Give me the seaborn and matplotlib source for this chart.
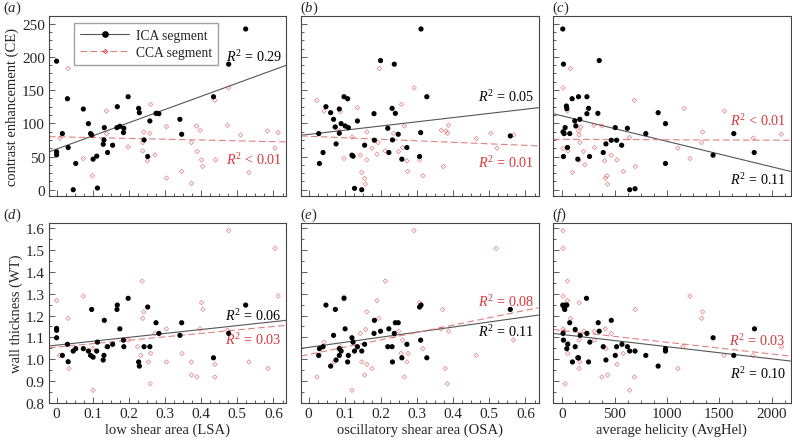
import matplotlib
matplotlib.use("Agg")
import numpy as np
import matplotlib.pyplot as plt
from matplotlib.lines import Line2D
from matplotlib.ticker import MultipleLocator, AutoMinorLocator
import seaborn as sns

# ---- data ----
# (a) low shear area vs contrast enhancement
a_ica_x = [0, 0, 0, 0.016, 0.030, 0.032, 0.046, 0.053, 0.074, 0.088, 0.094, 0.097, 0.101, 0.111,
           0.113, 0.129, 0.131, 0.132, 0.141, 0.155, 0.167, 0.168, 0.175, 0.185, 0.186, 0.198,
           0.227, 0.229, 0.242, 0.252, 0.258, 0.275, 0.283, 0.341, 0.346, 0.434, 0.476, 0.523]
a_ica_y = [193.5, 57, 52.5, 84.5, 137, 63.5, 0, 39.5, 121.5, 99.5, 84.5, 82.5, 46, 50.5,
           2.5, 68.5, 75, 93.5, 56, 67, 93.5, 125, 95.5, 86, 92.5, 140,
           122.5, 116, 75, 50, 103.5, 115, 114.5, 106, 83.5, 140, 189, 242]
a_cca_x = [0.032, 0.009, 0.032, 0.074, 0.099, 0.101, 0.138, 0.138, 0.198, 0.228, 0.238, 0.238,
           0.241, 0.251, 0.258, 0.260, 0.272, 0.278, 0.304, 0.304, 0.346, 0.373, 0.373, 0.387,
           0.389, 0.397, 0.401, 0.404, 0.438, 0.440, 0.473, 0.476, 0.509, 0.532, 0.583, 0.604, 0.613]
a_cca_y = [182.5, 77.5, 63.5, 47, 21, 81, 118.5, 84.5, 64.5, 122, 71, 58.5,
           87, 43.5, 85, 128.5, 52.5, 116, 95, 17.5, 27.5, 71, 9.5, 96,
           57.5, 89.5, 45, 35, 134.5, 45, 97, 153.5, 82.5, 26, 88.5, 62.5, 86]

# (b) oscillatory shear area vs contrast enhancement
b_ica_x = [0.028, 0.030, 0.040, 0.048, 0.061, 0.069, 0.074, 0.076, 0.085, 0.085, 0.090, 0.098,
           0.101, 0.108, 0.110, 0.120, 0.123, 0.127, 0.135, 0.147, 0.155, 0.181, 0.182, 0.199,
           0.219, 0.222, 0.231, 0.232, 0.237, 0.240, 0.248, 0.258, 0.272, 0.307, 0.310, 0.311,
           0.327, 0.558]
b_ica_y = [84.5, 39.5, 56, 125, 116, 106, 94.5, 69, 121.5, 85, 99.5, 140,
           96, 137, 93.5, 52, 50.5, 2, 103.5, 0, 67, 114.5, 74.5, 194.5,
           92.5, 56, 122.5, 75, 189, 115, 83.5, 46, 63.5, 50, 86, 242,
           140, 81]
b_cca_x = [0.023, 0.043, 0.071, 0.088, 0.085, 0.098, 0.120, 0.135, 0.143, 0.147, 0.155, 0.157,
           0.161, 0.161, 0.175, 0.189, 0.192, 0.196, 0.212, 0.235, 0.249, 0.257, 0.260, 0.265,
           0.272, 0.274, 0.292, 0.307, 0.316, 0.367, 0.373, 0.380, 0.384, 0.387, 0.464, 0.504,
           0.521, 0.567]
b_cca_y = [134.5, 118.5, 94.5, 117.5, 88.5, 47, 79.5, 123.5, 52, 26, 17, 8.5,
           45, 87, 62.5, 53.5, 71, 182.5, 58.5, 85, 57.5, 128.5, 63.5, 96,
           43.5, 27.5, 153.5, 45, 21, 89.5, 35, 88.5, 85, 97, 77, 85,
           62.5, 82.5]

# (c) average helicity vs contrast enhancement
c_ica_x = [3, 10, 6, 16, 26, 10, 38, 42, 48, 70, 93, 118, 128, 147, 154, 166, 234, 234, 250,
           259, 339, 352, 390, 416, 467, 505, 518, 566, 621, 643, 694, 797, 915, 985, 985,
           1440, 1638, 1833]
c_ica_y = [242, 189, 87, 84.5, 93.5, 50, 126, 122, 63.5, 84.5, 137, 103.5, 96, 46, 140, 106,
           140, 114.5, 122.5, 50, 115, 194.5, 56, 69, 74.5, 93.5, 74.5, 67, 92.5, 0, 1.5,
           84.5, 116, 99.5, 39.5, 52, 84.5, 56]
c_cca_x = [6, 6, 13, 16, 38, 48, 51, 77, 96, 154, 160, 166, 160, 176, 202, 214, 301, 307, 377,
           403, 410, 426, 432, 467, 521, 582, 640, 688, 697, 1104, 1164, 1219, 1340, 1331,
           1548, 1823, 2092]
c_cca_y = [153.5, 62, 89.5, 86, 124.5, 118.5, 58.5, 182.5, 26, 88.5, 82.5, 71, 44.5, 94.5,
           57.5, 37.5, 97, 63.5, 96, 43.5, 17.5, 21, 8.5, 52, 45, 27.5, 78.5, 134.5, 35,
           62.5, 122.5, 47, 87, 71, 118.5, 77.5, 83.5]

# (d) low shear area vs wall thickness
d_ica_x = a_ica_x
d_ica_y = [1.141, 1.132, 1.098, 1.017, 1.068, 0.988, 1.037, 1.048, 1.048, 1.037, 1.017, 1.228,
           1.009, 1.037, 1.078, 0.996, 1.017, 1.178, 1.057, 1.068, 1.228, 1.248, 1.139, 1.087,
           1.057, 1.279, 0.987, 0.968, 1.057, 1.239, 1.057, 1.167, 1.118, 1.109, 1.167, 1.006,
           1.118, 1.248]
d_cca_x = [0, 0.008, 0.032, 0.034, 0.074, 0.100, 0.101, 0.137, 0.198, 0.224, 0.233, 0.237,
           0.238, 0.241, 0.254, 0.259, 0.260, 0.272, 0.304, 0.304, 0.347, 0.373, 0.373, 0.388,
           0.397, 0.401, 0.405, 0.438, 0.438, 0.473, 0.476, 0.532, 0.585, 0.604, 0.613]
d_cca_y = [1.269, 1.017, 1.187, 0.957, 1.289, 1.048, 0.857, 1.057, 1.087, 1.057, 1.017, 1.358,
           1.187, 1.217, 0.987, 0.887, 1.026, 1.118, 1.139, 0.987, 1.026, 0.987, 0.927, 0.918,
           1.139, 1.259, 1.228, 0.976, 0.918, 1.132, 1.590, 0.987, 0.957, 1.508, 1.289]

# (e) oscillatory shear area vs wall thickness
e_ica_x = b_ica_x
e_ica_y = [1.017, 1.048, 1.057, 1.248, 0.968, 1.109, 1.228, 0.996, 1.048, 1.017, 1.037, 1.279,
           1.139, 0.987, 1.017, 1.098, 1.078, 1.037, 1.057, 1.037, 1.068, 1.118, 1.178, 1.128,
           1.057, 1.139, 1.057, 0.987, 1.118, 1.167, 1.167, 1.006, 1.068, 1.239, 1.087, 1.248,
           1.006, 1.228]
e_cca_x = [0.023, 0.043, 0.071, 0.088, 0.098, 0.120, 0.135, 0.143, 0.147, 0.155, 0.158, 0.161,
           0.161, 0.175, 0.189, 0.194, 0.212, 0.235, 0.249, 0.256, 0.260, 0.265, 0.272, 0.275,
           0.292, 0.307, 0.316, 0.366, 0.371, 0.378, 0.384, 0.387, 0.464, 0.519, 0.567]
e_cca_y = [0.918, 1.078, 0.987, 1.057, 1.286, 0.857, 1.052, 1.118, 0.987, 0.927, 1.136, 1.217,
           0.976, 0.957, 1.269, 1.187, 1.358, 1.106, 1.128, 1.026, 1.087, 0.918, 0.987, 1.026,
           1.590, 1.259, 1.048, 1.139, 1.228, 0.957, 0.887, 1.128, 1.017, 1.508, 1.087]

# (f) average helicity vs wall thickness
f_ica_x = [3, 26, 16, 22, 42, 6, 10, 42, 51, 70, 96, 122, 122, 147, 154, 170, 230, 234, 250,
           262, 342, 352, 390, 416, 467, 505, 518, 569, 621, 643, 694, 797, 915, 985, 985,
           1440, 1638, 1836]
f_ica_y = [1.248, 1.248, 1.239, 1.228, 1.248, 1.118, 1.087, 1.048, 1.068, 1.167, 0.987, 1.136,
           1.057, 1.006, 1.006, 1.109, 1.279, 1.118, 0.987, 1.078, 1.167, 1.128, 1.057, 0.996,
           1.178, 1.017, 1.057, 1.068, 1.057, 1.037, 1.037, 1.017, 0.968, 1.048, 1.037,
           1.098, 1.017, 1.139]
f_cca_x = [6, 6, 6, 6, 13, 26, 48, 48, 51, 51, 77, 160, 160, 160, 166, 205, 307, 304, 377,
           410, 416, 432, 467, 521, 582, 643, 688, 697, 1104, 1152, 1219, 1331, 1340, 1545,
           1823, 2095]
f_cca_y = [1.590, 1.508, 1.289, 1.139, 1.128, 0.887, 1.358, 1.269, 1.075, 1.026, 1.187, 1.259,
           1.087, 0.957, 0.987, 1.128, 1.087, 1.128, 0.918, 1.139, 1.048, 0.927, 1.118, 0.976,
           1.026, 0.857, 0.918, 1.228, 0.957, 1.057, 1.289, 1.187, 1.217, 1.017, 1.017, 1.057]

# regression lines as printed: [intercept, slope]
a_fit = [[61.2, 198.6], [79.7, -12.2]]
b_fit = [[83.3, 63.2], [80.5, -22.8]]
c_fit = [[111.1, -0.0383], [75.9, -0.00066]]
d_fit = [[1.064, 0.1796], [1.055, 0.158]]
e_fit = [[1.054, 0.233], [1.021, 0.338]]
f_fit = [[1.113, -5.59e-5], [1.131, -5.37e-5]]

r2_text = {
    "a": ["= 0.29", "< 0.01"], "b": ["= 0.05", "= 0.01"], "c": ["= 0.11", "< 0.01"],
    "d": ["= 0.06", "= 0.03"], "e": ["= 0.11", "= 0.08"], "f": ["= 0.10", "= 0.03"],
}

x_labels = ["low shear area (LSA)", "oscillatory shear area (OSA)", "average helicity (AvgHel)"]
y_labels = ["contrast enhancement (CE)", "wall thickness (WT)"]

# ---- style ----
sns.set_style("white")
plt.rcParams["font.family"] = ["Liberation Serif", "DejaVu Serif"]
plt.rcParams["mathtext.fontset"] = "custom"
plt.rcParams["mathtext.rm"] = "Liberation Serif"
plt.rcParams["mathtext.it"] = "Liberation Serif:italic"
plt.rcParams["font.size"] = 10.5

RED = "#d6383c"
RED_LINE = "#e08080"
FS = 11

fig = plt.figure(figsize=(7.92, 4.39), dpi=100)
lefts = [49 / 792, 301 / 792, 553 / 792]
width = 237.5 / 792
bottoms = [1 - 196.7 / 439, 1 - 403.7 / 439]
height = 180 / 439

panels = [
    ("a", a_ica_x, a_ica_y, a_cca_x, a_cca_y, a_fit, 0, 0),
    ("b", b_ica_x, b_ica_y, b_cca_x, b_cca_y, b_fit, 0, 1),
    ("c", c_ica_x, c_ica_y, c_cca_x, c_cca_y, c_fit, 0, 2),
    ("d", d_ica_x, d_ica_y, d_cca_x, d_cca_y, d_fit, 1, 0),
    ("e", e_ica_x, e_ica_y, e_cca_x, e_cca_y, e_fit, 1, 1),
    ("f", f_ica_x, f_ica_y, f_cca_x, f_cca_y, f_fit, 1, 2),
]

# where the R^2 notes sit (axes fraction): black, red
r2_pos = {"a": (0.778, 0.204), "b": (0.556, 0.187), "c": (0.093, 0.42),
          "d": (0.487, 0.354), "e": (0.398, 0.565), "f": (0.165, 0.348)}

for key, ix, iy, cx, cy, fit, row, col in panels:
    ax = fig.add_axes([lefts[col], bottoms[row], width, height])
    if col == 2:
        xlim = (-90, 2180)
    else:
        xlim = (-0.021, 0.636)
    ylim = (-9, 262) if row == 0 else (0.8, 1.626)

    sns.scatterplot(x=cx, y=cy, ax=ax, marker="D", s=5, facecolor="none",
                    edgecolor=RED, linewidth=0.55, alpha=0.6, zorder=3)
    sns.scatterplot(x=ix, y=iy, ax=ax, marker="o", s=14, color="black",
                    edgecolor="none", zorder=4)

    xs = np.array(xlim)
    ax.plot(xs, fit[0][0] + fit[0][1] * xs, color="#555555", lw=0.8, zorder=2)
    ax.plot(xs, fit[1][0] + fit[1][1] * xs, color=RED_LINE, lw=0.8,
            dashes=(6, 3), zorder=2)

    ax.set_xlim(xlim)
    ax.set_ylim(ylim)

    yb, yr = r2_pos[key]
    ax.text(0.98, yb, r"$R^2$ " + r2_text[key][0], transform=ax.transAxes,
            ha="right", va="center", color="black", fontsize=10.2)
    ax.text(0.98, yr, r"$R^2$ " + r2_text[key][1], transform=ax.transAxes,
            ha="right", va="center", color=RED, fontsize=10.2)

    if col == 2:
        ax.xaxis.set_major_locator(MultipleLocator(500))
    else:
        ax.xaxis.set_major_locator(MultipleLocator(0.1))
    ax.xaxis.set_minor_locator(AutoMinorLocator(4))
    if row == 0:
        ax.yaxis.set_major_locator(MultipleLocator(50))
        ax.yaxis.set_minor_locator(AutoMinorLocator(4))
    else:
        ax.yaxis.set_major_locator(MultipleLocator(0.1))
        ax.yaxis.set_minor_locator(AutoMinorLocator(2))

    ax.tick_params(which="both", direction="in", color="#444444", width=0.6,
                   top=False, right=False, bottom=True, left=True)
    ax.tick_params(which="major", length=4, labelsize=FS, pad=3)
    ax.tick_params(which="minor", length=2)
    for sp in ax.spines.values():
        sp.set_color("#444444")
        sp.set_linewidth(0.8)

    if row == 0:
        ax.tick_params(labelbottom=False)
    else:
        ax.set_xlabel(x_labels[col], fontsize=10.5, labelpad=2)
        if col < 2:
            ax.set_xticks(ax.get_xticks())
            ax.set_xticklabels(["0" if abs(t) < 1e-9 else f"{t:.1f}" for t in ax.get_xticks()])
            ax.set_xlim(xlim)
    if col > 0:
        ax.tick_params(labelleft=False)
    else:
        ax.set_ylabel(y_labels[row], fontsize=10.5, labelpad=2)
        if row == 1:
            ax.set_yticks(ax.get_yticks())
            ax.set_yticklabels([f"{t:.1f}" for t in ax.get_yticks()])
            ax.set_ylim(ylim)

    # panel letter
    fig.text(lefts[col] - (46 / 792 if col == 0 else 1 / 792),
             bottoms[row] + height + 5 / 439, rf"($\mathit{{{key}}}$)",
             ha="left", va="baseline", fontsize=10.5)

    if key == "a":
        handles = [
            Line2D([], [], color="#555555", lw=0.8, marker="o", markersize=3.8,
                   markerfacecolor="black", markeredgecolor="black"),
            Line2D([], [], color=RED_LINE, lw=0.8, dashes=(6, 3), marker="D",
                   markersize=2.3, markerfacecolor="none", markeredgecolor=RED,
                   markeredgewidth=0.55),
        ]
        ax.legend(handles, ["ICA segment", "CCA segment"], loc="upper left",
                  bbox_to_anchor=(0.105, 0.96), frameon=True, fancybox=False,
                  edgecolor="#888888", fontsize=9.8, handlelength=3.6,
                  borderpad=0.45, labelspacing=0.3, handletextpad=0.5,
                  borderaxespad=0)

fig.savefig("out.png", dpi=100)
